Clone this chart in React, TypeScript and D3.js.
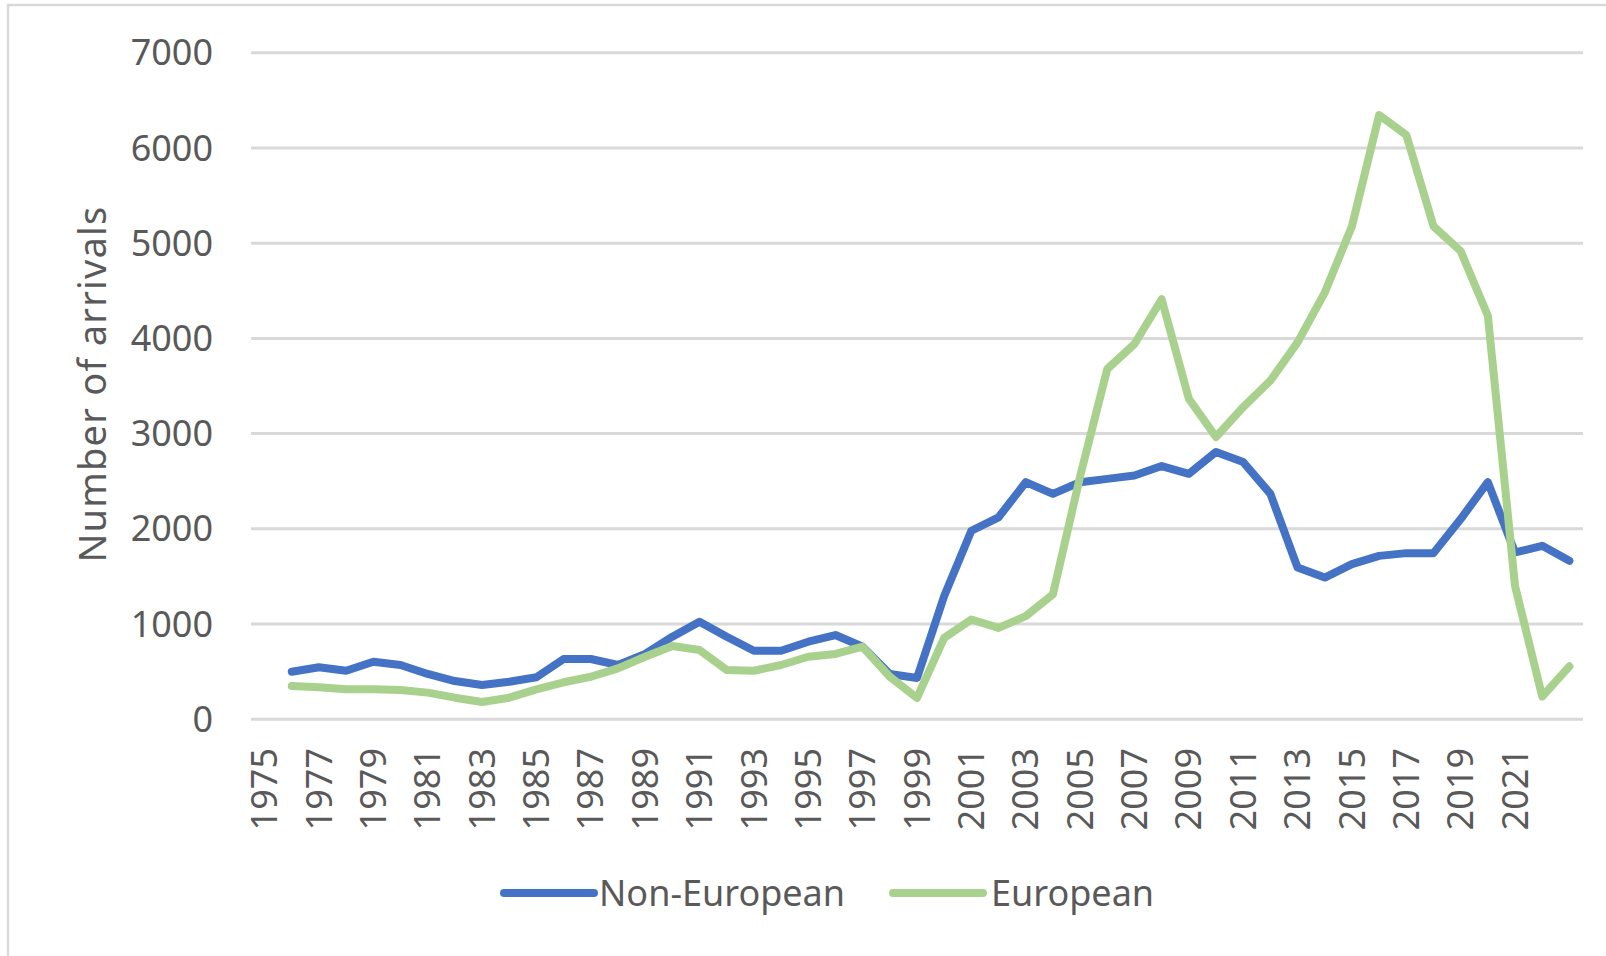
import React, { useEffect, useRef } from 'react';
import * as d3 from 'd3';

// categories on the x axis: 1975 .. 2023
const years: number[] = d3.range(1975, 2024);

// series values, starting at 1976
const seriesYears: number[] = d3.range(1976, 2024);

const nonEuropean: number[] = [
  500, 546, 510, 605, 570, 476, 402, 360, 395, 441,
  633, 633, 570, 686, 867, 1025, 867, 720, 720, 815,
  885, 762, 476, 433, 1294, 1980, 2121, 2490, 2367, 2490,
  2525, 2560, 2659, 2578, 2807, 2701, 2367, 1593, 1488, 1629,
  1716, 1745, 1745, 2103, 2490, 1752, 1822, 1664,
];

const european: number[] = [
  350, 336, 315, 315, 308, 280, 227, 182, 227, 315,
  389, 447, 535, 657, 770, 728, 518, 510, 570, 657,
  686, 762, 447, 224, 855, 1048, 960, 1083, 1312, 2550,
  3679, 3941, 4411, 3366, 2965, 3279, 3557, 3958, 4481, 5178,
  6345, 6136, 5178, 4916, 4237, 1400, 239, 556,
];

const yTicks: number[] = [0, 1000, 2000, 3000, 4000, 5000, 6000, 7000];
const xTickLabels: number[] = years.filter((y) => (y - 1975) % 2 === 0 && y <= 2021);

const seriesNames: string[] = ['Non-European', 'European'];
const seriesColors: string[] = ['#4472C4', '#A9D18E'];

const App = () => {
  const chartRef = useRef<SVGSVGElement | null>(null);

  useEffect(() => {
    const width = 1606;
    const height = 956;
    const font = '"Noto Sans", "Open Sans", sans-serif';
    const textColor = '#595959';

    const svg = d3.select(chartRef.current);
    svg.selectAll('*').remove();
    svg.attr('width', width).attr('height', height);

    svg.append('rect')
      .attr('width', width)
      .attr('height', height)
      .attr('fill', '#ffffff');

    // chart frame (only left/top edges visible)
    svg.append('rect')
      .attr('x', 8)
      .attr('y', 5)
      .attr('width', width + 20)
      .attr('height', height + 20)
      .attr('fill', 'none')
      .attr('stroke', '#D9D9D9')
      .attr('stroke-width', 2.5);

    const x = d3.scaleBand<string>()
      .domain(years.map(String))
      .range([251, 1583]);
    const cx = (yr: number) => (x(String(yr)) as number) + x.bandwidth() / 2;

    const y = d3.scaleLinear().domain([0, 7000]).range([719.3, 52.7]);

    // gridlines
    svg.append('g')
      .selectAll('line')
      .data(yTicks)
      .enter()
      .append('line')
      .attr('x1', 251)
      .attr('x2', 1583)
      .attr('y1', (d) => y(d))
      .attr('y2', (d) => y(d))
      .attr('stroke', '#D9D9D9')
      .attr('stroke-width', 3);

    // y tick labels
    svg.append('g')
      .selectAll('text')
      .data(yTicks)
      .enter()
      .append('text')
      .attr('x', 213)
      .attr('y', (d) => y(d))
      .attr('dy', '0.35em')
      .attr('text-anchor', 'end')
      .style('font-family', font)
      .style('font-size', '36px')
      .style('fill', textColor)
      .text((d) => String(d));

    // x tick labels, rotated
    svg.append('g')
      .selectAll('text')
      .data(xTickLabels)
      .enter()
      .append('text')
      .attr('transform', (d) => `translate(${cx(d)},748) rotate(-90)`)
      .attr('dy', '0.35em')
      .attr('text-anchor', 'end')
      .style('font-family', font)
      .style('font-size', '36px')
      .style('fill', textColor)
      .text((d) => String(d));

    // y axis title
    svg.append('text')
      .attr('transform', 'translate(93,384) rotate(-90)')
      .attr('dy', '0.35em')
      .attr('text-anchor', 'middle')
      .style('font-family', font)
      .style('font-size', '38px')
      .style('letter-spacing', '1.2px')
      .style('fill', textColor)
      .text('Number of arrivals');

    // lines
    const line = d3.line<number>()
      .x((d, i) => cx(seriesYears[i]))
      .y((d) => y(d));

    [nonEuropean, european].forEach((series, i) => {
      svg.append('path')
        .datum(series)
        .attr('d', line)
        .attr('fill', 'none')
        .attr('stroke', seriesColors[i])
        .attr('stroke-width', 8)
        .attr('stroke-linejoin', 'round')
        .attr('stroke-linecap', 'round');
    });

    // legend
    const legendItems = [
      { x0: 504, x1: 594, tx: 599 },
      { x0: 893, x1: 983, tx: 991 },
    ];
    legendItems.forEach((item, i) => {
      svg.append('line')
        .attr('x1', item.x0)
        .attr('x2', item.x1)
        .attr('y1', 893)
        .attr('y2', 893)
        .attr('stroke', seriesColors[i])
        .attr('stroke-width', 8)
        .attr('stroke-linecap', 'round');
      svg.append('text')
        .attr('x', item.tx)
        .attr('y', 893)
        .attr('dy', '0.35em')
        .style('font-family', font)
        .style('font-size', '36px')
        .style('fill', textColor)
        .text(seriesNames[i]);
    });
  }, []);

  return (
    <svg
      ref={chartRef}
      style={{ position: 'absolute', left: 0, top: 0, display: 'block' }}
    />
  );
};

export default App;
